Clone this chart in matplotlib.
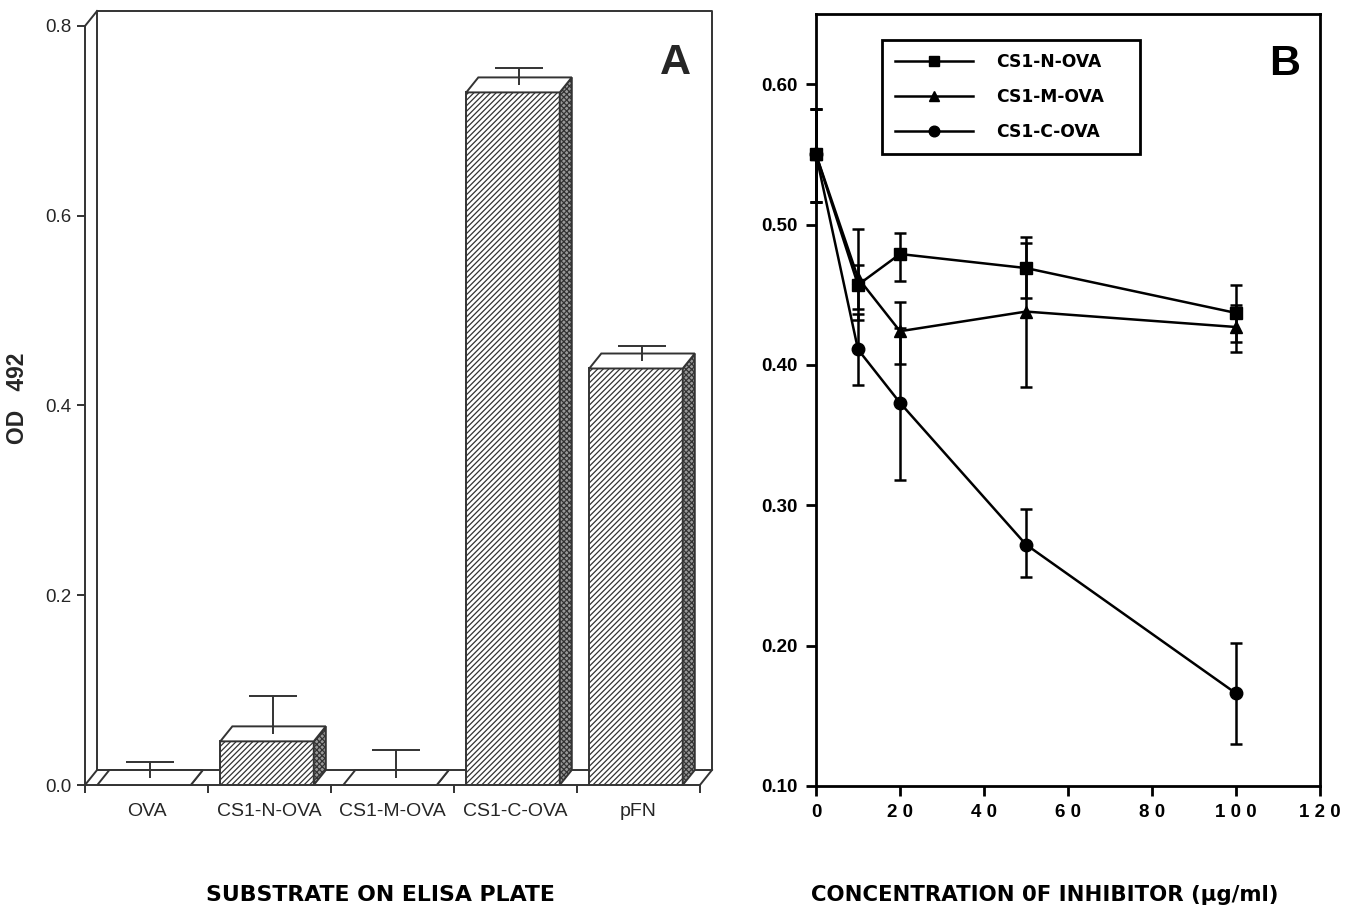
import numpy as np
import matplotlib
matplotlib.use('Agg')
import matplotlib.pyplot as plt
from matplotlib.patches import Polygon

# panel A: binding to substrates
substrates = ['OVA', 'CS1-N-OVA', 'CS1-M-OVA', 'CS1-C-OVA', 'pFN']
od492 = [0.0, 0.046, 0.0, 0.730, 0.439]
od492_err = [0.016, 0.040, 0.029, 0.018, 0.016]
a_yticks = [0.0, 0.2, 0.4, 0.6, 0.8]

# panel B: inhibition
conc = [0, 10, 20, 50, 100]
n_ova = [0.550, 0.457, 0.479, 0.469, 0.437]
n_lo = [0.034, 0.017, 0.019, 0.021, 0.021]
n_hi = [0.032, 0.040, 0.015, 0.018, 0.020]
m_ova = [0.550, 0.462, 0.424, 0.438, 0.427]
m_lo = [0.034, 0.030, 0.023, 0.054, 0.018]
m_hi = [0.032, 0.009, 0.021, 0.053, 0.016]
c_ova = [0.550, 0.411, 0.373, 0.272, 0.166]
c_lo = [0.034, 0.025, 0.055, 0.023, 0.036]
c_hi = [0.032, 0.025, 0.053, 0.025, 0.036]
b_xticks = [0, 20, 40, 60, 80, 100, 120]
b_xlabels = ['0', '2 0', '4 0', '6 0', '8 0', '1 0 0', '1 2 0']
b_yticks = [0.10, 0.20, 0.30, 0.40, 0.50, 0.60]

plt.rcParams['font.family'] = ['Liberation Sans', 'DejaVu Sans']
plt.rcParams['hatch.linewidth'] = 0.9

W, H = 1353, 910
fig = plt.figure(figsize=(W / 100, H / 100), dpi=100)

# ---------------- panel A ----------------
axA = fig.add_axes([85 / W, 125 / H, 627 / W, 774 / H])
n = len(substrates)
dx, dy = 0.098, 0.0158
ink = '0.2'
lw = 1.4
axA.set_xlim(0, n + dx)
axA.set_ylim(0, 0.8 + dy)
axA.patch.set_alpha(0)

# back wall and floor of the 3d box
wall_x = [dx, dx, n + dx, n + dx, dx]
wall_y = [dy, 0.8 + dy, 0.8 + dy, dy, dy]
axA.plot(wall_x, wall_y, color=ink, lw=lw, clip_on=False, zorder=1)
for sx, sy in [(0, 0), (n, 0), (0, 0.8)]:
    axA.plot([sx, sx + dx], [sy, sy + dy], color=ink, lw=lw, clip_on=False, zorder=1)

x0 = np.arange(n) + 0.1
w = 0.76
axA.bar(x0, od492, width=w, align='edge', facecolor='white', edgecolor=ink,
        hatch='//////', lw=lw, zorder=3)
for xi, h in zip(x0, od492):
    side = Polygon([(xi + w, 0), (xi + w + dx, dy), (xi + w + dx, h + dy), (xi + w, h)],
                   closed=True, facecolor='0.6', edgecolor=ink, hatch='xxxxxx',
                   lw=lw, zorder=3, clip_on=False)
    top = Polygon([(xi, h), (xi + w, h), (xi + w + dx, h + dy), (xi + dx, h + dy)],
                  closed=True, facecolor='white', edgecolor=ink, lw=lw, zorder=3,
                  clip_on=False)
    axA.add_patch(side)
    axA.add_patch(top)

# upper error bars only, from the centre of the top face
ex = x0 + w / 2 + dx / 2
ey = np.array(od492) + dy / 2
ecap = ey + np.array(od492_err)
axA.vlines(ex, ey, ecap, color=ink, lw=lw, zorder=5, clip_on=False)
axA.hlines(ecap, ex - 0.195, ex + 0.195, color=ink, lw=lw, zorder=5, clip_on=False)

for s in ['top', 'right']:
    axA.spines[s].set_visible(False)
axA.spines['left'].set_bounds(0, 0.8)
axA.spines['bottom'].set_bounds(0, n)
for s in ['left', 'bottom']:
    axA.spines[s].set_color(ink)
    axA.spines[s].set_linewidth(lw)
axA.set_yticks(a_yticks)
axA.set_yticklabels(['%.1f' % v for v in a_yticks])
axA.set_xticks(np.arange(n + 1))
axA.set_xticklabels([])
axA.set_xticks(np.arange(n) + 0.5, minor=True)
axA.set_xticklabels(substrates, minor=True)
axA.tick_params(axis='both', which='major', direction='out', length=6, width=lw,
                color=ink, labelsize=13.5, labelcolor='0.15')
axA.tick_params(axis='x', which='minor', length=0, pad=13, labelsize=14,
                labelcolor='0.15')
axA.set_ylabel('OD   492', fontsize=16.5, fontweight='bold', labelpad=12, color='0.15')
axA.text(4.80, 0.761, 'A', fontsize=31, fontweight='bold', ha='center', va='center',
         color='0.15')

# ---------------- panel B ----------------
axB = fig.add_axes([816 / W, 124 / H, 504 / W, 772 / H])
axB.set_xlim(0, 120)
axB.set_ylim(0.10, 0.65)

series = [
    (n_ova, n_lo, n_hi, 's', 8, 'CS1-N-OVA'),
    (m_ova, m_lo, m_hi, '^', 8, 'CS1-M-OVA'),
    (c_ova, c_lo, c_hi, 'o', 9, 'CS1-C-OVA'),
]
for vals, lo, hi, mk, ms, lab in series:
    axB.errorbar(conc, vals, yerr=[lo, hi], color='black', marker=mk, ms=ms,
                 lw=1.8, elinewidth=1.8, capsize=4.5, capthick=1.8, label=lab,
                 clip_on=False, zorder=4)

for s in axB.spines.values():
    s.set_linewidth(2.0)
axB.set_xticks(b_xticks)
axB.set_xticklabels(b_xlabels)
axB.set_yticks(b_yticks)
axB.set_yticklabels(['%.2f' % v for v in b_yticks])
axB.tick_params(axis='both', direction='out', length=7, width=2, labelsize=13.5,
                pad=6)
for t in axB.get_xticklabels() + axB.get_yticklabels():
    t.set_fontweight('bold')

handles, labels = axB.get_legend_handles_labels()
handles = [h[0] for h in handles]
leg_w, leg_h = 258 / 504, 113 / 772
leg = axB.legend(handles, labels, loc='upper left',
                 bbox_to_anchor=(0.131, 0.966 - leg_h, leg_w, leg_h), mode='expand',
                 frameon=True, fancybox=False, shadow=False, framealpha=1,
                 edgecolor='black', handlelength=4.6, handletextpad=1.3,
                 labelspacing=1.0, borderpad=0.75, borderaxespad=0, numpoints=1,
                 markerscale=0.85, prop={'family': 'DejaVu Sans', 'weight': 'bold',
                                         'size': 12.3})
leg.get_frame().set_linewidth(2.0)
axB.text(0.929, 0.935, 'B', transform=axB.transAxes, fontsize=31, fontweight='bold',
         ha='center', va='center')

fig.text(380 / W, 1 - 895 / H, 'SUBSTRATE ON ELISA PLATE', ha='center', va='center',
         fontsize=15.8, fontweight='bold', family='DejaVu Sans')
fig.text(1045 / W, 1 - 895 / H, 'CONCENTRATION 0F INHIBITOR (µg/ml)', ha='center',
         va='center', fontsize=15.3, fontweight='bold', family='DejaVu Sans')

fig.savefig('out.png', dpi=100)
